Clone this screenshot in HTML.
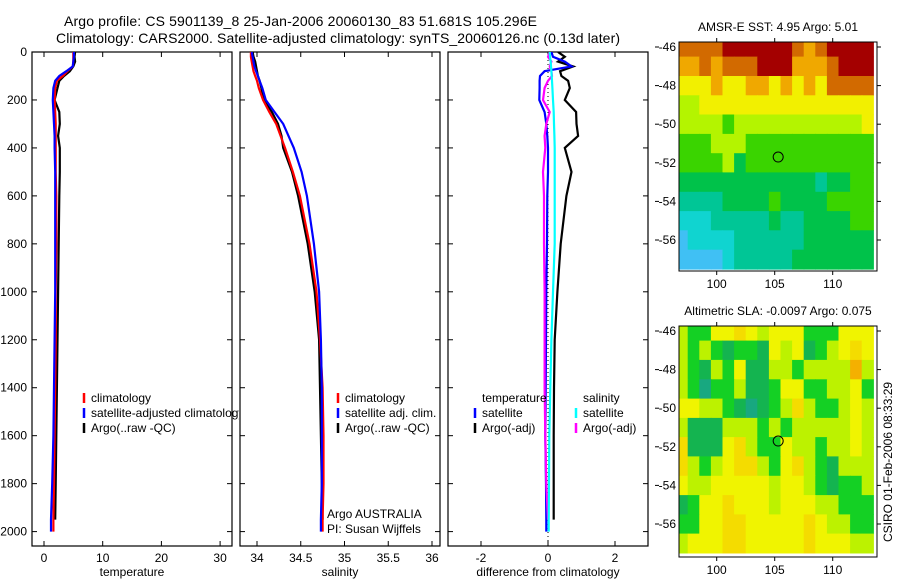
<!DOCTYPE html>
<html><head><meta charset="utf-8"><style>
html,body{margin:0;padding:0;background:#fff;}
svg{display:block;font-family:"Liberation Sans",sans-serif;}
</style></head><body>
<svg id="fig" width="900" height="580" viewBox="0 0 900 580">
<defs>
<clipPath id="clipT"><rect x="32" y="52" width="207" height="494"/></clipPath>
<clipPath id="clipS"><rect x="240" y="52" width="199" height="494"/></clipPath>
<clipPath id="clipD"><rect x="448" y="52" width="199" height="494"/></clipPath>
</defs>
<text x="64" y="26" font-size="14" textLength="473">Argo profile: CS 5901139_8 25-Jan-2006 20060130_83 51.681S 105.296E</text>
<text x="56" y="43" font-size="14" textLength="564">Climatology: CARS2000. Satellite-adjusted climatology: synTS_20060126.nc (0.13d later)</text>
<g id="root"></g>
</svg>
<script>
// ---- data ----
const depths = [0,20,40,60,80,100,120,150,200,250,300,350,400,500,600,800,1000,1200,1400,1600,1800,1950,2000];
const tempClim = [5.0,5.0,5.0,4.9,4.0,3.2,2.2,1.9,1.8,1.9,2.0,2.0,2.0,2.0,2.1,2.1,2.0,2.0,1.9,1.8,1.7,1.6,1.6];
const tempSat  = [5.1,5.1,5.0,4.9,3.8,2.6,1.9,1.6,1.5,1.6,1.7,1.8,1.8,1.9,1.9,1.9,1.9,1.8,1.7,1.6,1.4,1.2,1.2];
const tempArgo = [5.3,5.2,5.3,5.0,4.4,3.4,2.6,2.3,1.8,2.6,2.7,2.4,2.7,2.7,2.6,2.5,2.4,2.3,2.2,2.1,2.0,1.9,null];
const salClim = [33.93,33.93,33.94,33.95,33.96,33.98,34.0,34.02,34.07,34.14,34.22,34.27,34.32,34.41,34.49,34.6,34.68,34.72,34.75,34.76,34.76,34.75,34.75];
const salSat  = [33.94,33.95,33.96,33.97,33.99,34.01,34.03,34.06,34.1,34.2,34.3,34.36,34.42,34.51,34.57,34.65,34.71,34.73,34.74,34.74,34.74,34.73,34.73];
const salArgo = [33.95,33.96,33.98,33.99,34.0,34.01,34.03,34.05,34.08,34.17,34.24,34.28,34.3,34.4,34.47,34.58,34.66,34.71,34.72,34.73,34.74,34.75,null];
const dTempSat  = [0.1,0.15,0.5,0.7,-0.1,-0.24,-0.25,-0.25,-0.26,-0.1,-0.05,-0.02,0.0,0.0,-0.02,-0.03,-0.05,-0.06,-0.07,-0.08,-0.06,-0.05,-0.05];
const dTempArgo = [0.3,0.5,0.3,0.75,0.36,0.4,0.6,0.65,0.5,0.84,0.85,0.9,0.5,0.7,0.55,0.38,0.28,0.2,0.18,0.17,0.17,0.17,null];
const dSalSat   = [0.05,0.06,0.08,0.09,0.1,0.11,0.12,0.13,0.15,0.17,0.18,0.19,0.2,0.2,0.2,0.2,0.15,0.1,0.07,0.04,0.03,0.02,0.02];
const dSalArgo  = [0.05,0.0,0.1,0.05,0.1,0.12,0.0,-0.1,-0.15,0.05,-0.05,-0.1,-0.08,-0.15,-0.12,-0.12,-0.1,-0.1,-0.1,-0.08,-0.05,0.0,null];
const tempTicks = [0,10,20,30];
const salTicks = [34,34.5,35,35.5,36];
const salTickLabels = ["34","34.5","35","35.5","36"];
const diffTicks = [-2,0,2];
const depthTicks = [0,200,400,600,800,1000,1200,1400,1600,1800,2000];
const mapLons = [97,98,99,100,101,102,103,104,105,106,107,108,109,110,111,112,113];
const mapLats = [-46,-47,-48,-49,-50,-51,-52,-53,-54,-55,-56,-57];
const lonTicks = [100,105,110];
const latTicks = [-46,-48,-50,-52,-54,-56];
const sstRows = [
"11110000001210000","22121110002221000","33323322323231111","44333333333333333",
"44445444444444443","55544455555555555","55554655555555555","66666666666676655",
"77776666566665555","88877777677666655","98888777777666666","99998777776666666"];
const slaRows = [
"32244543444222444","32321221434123454","32132411332333363","32022311244223342",
"44332101235322343","31113332323333343","51114532243323343","53234553245321333",
"43344444344321223","12445444344433222","22445544444543322","34445544444544433"];
const sstPal = ["#a40000","#d26a00","#f0a800","#f2f000","#b4f400","#3ad400","#00c24a","#00c696","#10d4d0","#40c0f4"];
const slaPal = ["#18a880","#14b450","#14d024","#bcf200","#f0f400","#f4dc00","#f4b000"];

// ---- scales ----
const yD = d => 52 + d*0.2398;
const xT = v => 44 + v*5.87;
const xS = v => 257 + (v-34)*87.5;
const xDf = v => 548 + v*33.5;
const mapX = lon => 679 + (lon-96.75)*11.6;
const mapY1 = lat => 47 + (-46-lat)*19.3;
const mapY2 = lat => 331 + (-46-lat)*19.3;

const NS='http://www.w3.org/2000/svg';
const root=document.getElementById('root');
function mk(tag,attrs,parent){const e=document.createElementNS(NS,tag);for(const k in attrs)e.setAttribute(k,attrs[k]);(parent||root).appendChild(e);return e;}
function txt(s,x,y,size,anchor,parent){const t=mk('text',{x:x,y:y,'font-size':size,'text-anchor':anchor||'start'},parent);t.textContent=s;return t;}

function panel(name,x0,x1,xs,ticks,labels,xlabel){
  const g=mk('g',{});
  
  
  const f=mk('rect',{x:x0,y:52,width:x1-x0,height:494,fill:'none',stroke:'#000','stroke-width':1.2},g);
  
  
  ticks.forEach((v,i)=>{const x=xs(v);
    mk('line',{x1:x,y1:546,x2:x,y2:541,stroke:'#000'},g);
    mk('line',{x1:x,y1:52,x2:x,y2:57,stroke:'#000'},g);
    const t=txt(labels[i],x,562,12,'middle',g);
    
    
  });
  depthTicks.forEach(d=>{const y=yD(d);
    mk('line',{x1:x0,y1:y,x2:x0+5,y2:y,stroke:'#000'},g);
    mk('line',{x1:x1,y1:y,x2:x1-5,y2:y,stroke:'#000'},g);
  });
  const xl=txt(xlabel,(x0+x1)/2,576,12,'middle',g);
  
  
  return g;
}
function series(name,vals,xs,color,clip){
  let pts=[];
  vals.forEach((v,i)=>{if(v!==null)pts.push(xs(v).toFixed(1)+','+yD(depths[i]).toFixed(1));});
  const p=mk('polyline',{points:pts.join(' '),fill:'none',stroke:color,'stroke-width':2.2,'clip-path':'url(#'+clip+')'});
  
  
}
function legend(x,y,color,label,g){
  if(color){const m=mk('line',{x1:x,y1:y-9,x2:x,y2:y+1,stroke:color,'stroke-width':2.5},g);}
  const t=txt(label,x+7,y,12,'start',g);
  
  
}

depthTicks.forEach(d=>{const t=txt(String(d),27,yD(d)+4,12,'end');
  
  });

panel('temperature-panel',32,232,xT,tempTicks,tempTicks.map(String),'temperature');
panel('salinity-panel',240,440,xS,salTicks,salTickLabels,'salinity');
panel('difference-panel',448,648,xDf,diffTicks,diffTicks.map(String),'difference from climatology');

series('temp-argo',tempArgo,xT,'#000','clipT');
series('temp-climatology',tempClim,xT,'#f00','clipT');
series('temp-satellite',tempSat,xT,'#00f','clipT');
series('sal-argo',salArgo,xS,'#000','clipS');
series('sal-climatology',salClim,xS,'#f00','clipS');
series('sal-satellite',salSat,xS,'#00f','clipS');
const zl=mk('line',{x1:xDf(0),y1:52,x2:xDf(0),y2:546,stroke:'#000','stroke-dasharray':'1,3'});


series('diff-temp-argo',dTempArgo,xDf,'#000','clipD');
series('diff-temp-satellite',dTempSat,xDf,'#00f','clipD');
series('diff-sal-argo',dSalArgo,xDf,'#f0f','clipD');
series('diff-sal-satellite',dSalSat,xDf,'#0ff','clipD');

const lg1=mk('g',{'clip-path':'url(#clipT)'});


legend(84,402,'#f00','climatology',lg1);legend(84,417,'#00f','satellite-adjusted climatology',lg1);legend(84,432,'#000','Argo(..raw -QC)',lg1);
const lg2=mk('g',{});


legend(338,402,'#f00','climatology',lg2);legend(338,417,'#00f','satellite adj. clim.',lg2);legend(338,432,'#000','Argo(..raw -QC)',lg2);
txt('Argo AUSTRALIA',327,518,12,'start',lg2);txt('PI: Susan Wijffels',327,533,12,'start',lg2);
const lg3=mk('g',{});


legend(475,402,null,'temperature',lg3);legend(475,417,'#00f','satellite',lg3);legend(475,432,'#000','Argo(-adj)',lg3);
legend(576,402,null,'salinity',lg3);legend(576,417,'#0ff','satellite',lg3);legend(576,432,'#f0f','Argo(-adj)',lg3);

function drawMap(name,rows,pal,mapY,top,bottom,title,titleY){
  const g=mk('g',{});
  
  
  rows.forEach((r,j)=>{const lat=mapLats[j];
    for(let i=0;i<mapLons.length;i++){const lon=mapLons[i];
      let x0=Math.max(679,mapX(lon-0.5)),x1=Math.min(877,mapX(lon+0.5));
      let y0=Math.max(top,mapY(lat+0.5)),y1=Math.min(bottom,mapY(lat-0.5));
      if(y1<=y0) continue;
      const c=mk('rect',{x:x0.toFixed(1),y:y0.toFixed(1),width:(x1-x0+0.6).toFixed(1),height:(y1-y0+0.6).toFixed(1),fill:pal[+r[i]]},g);
      
      
    }});
  mk('rect',{x:679,y:top,width:198,height:bottom-top,fill:'none',stroke:'#000','stroke-width':1},g);
  lonTicks.forEach(l=>{const x=mapX(l);
    mk('line',{x1:x,y1:top,x2:x,y2:top-4,stroke:'#000'},g);
    mk('line',{x1:x,y1:bottom,x2:x,y2:bottom+4,stroke:'#000'},g);
    const t=txt(String(l),x,bottom+17,12,'middle',g);
    
    });
  latTicks.forEach(l=>{const y=mapY(l);
    mk('line',{x1:877,y1:y,x2:881,y2:y,stroke:'#000'},g);
    mk('line',{x1:655,y1:y,x2:659,y2:y,stroke:'#000'},g);
    const t=txt(String(l),676,y+4,12,'end',g);
    
    });
  const c=mk('circle',{cx:mapX(105.3),cy:mapY(-51.7),r:5,fill:'none',stroke:'#000','stroke-width':1},g);
  
  
  const t=txt(title,778,titleY,12,'middle',g);
  
  
}
drawMap('sst-map',sstRows,sstPal,mapY1,42,271,'AMSR-E SST: 4.95 Argo: 5.01',31);
drawMap('sla-map',slaRows,slaPal,mapY2,326,557,'Altimetric SLA: -0.0097 Argo: 0.075',315);
const st=txt('CSIRO 01-Feb-2006 08:33:29',0,0,12,'middle');
st.setAttribute('transform','translate(892,462) rotate(-90)');


</script>
</body></html>
